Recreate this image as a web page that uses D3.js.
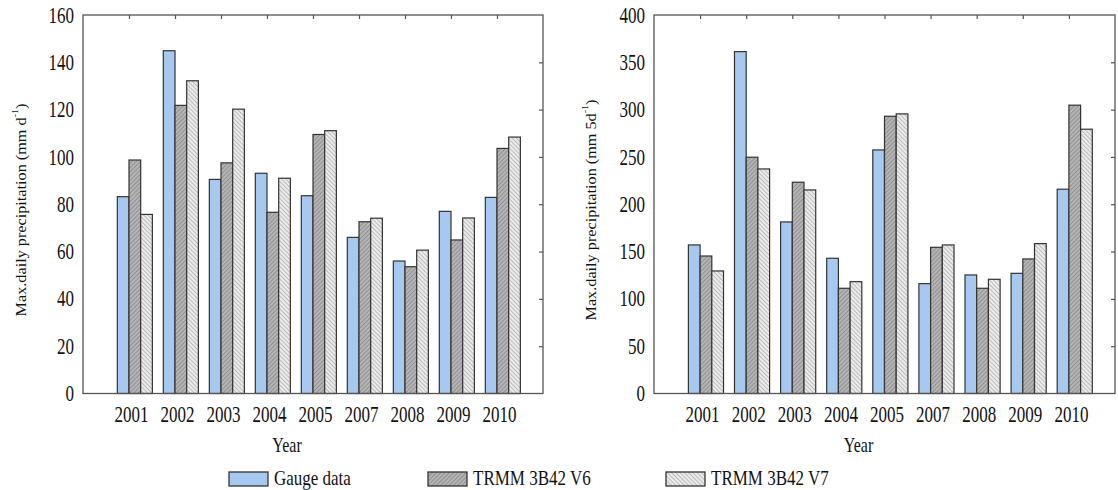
<!DOCTYPE html>
<html>
<head>
<meta charset="utf-8">
<script src="https://cdn.jsdelivr.net/npm/d3@7"></script>
<style>
  html, body { margin: 0; padding: 0; background: #fff; }
  svg { display: block; font-family: "Liberation Serif", "Times New Roman", serif; }
</style>
</head>
<body>
<svg id="chart" width="1118" height="490"></svg>
<script>
// data
const years = ['2001', '2002', '2003', '2004', '2005', '2007', '2008', '2009', '2010'];
const seriesNames = ['Gauge data', 'TRMM 3B42 V6', 'TRMM 3B42 V7'];

// max 1-day precipitation (mm d-1)
const gaugeDaily = [83.2, 144.9, 90.5, 93.1, 83.6, 66.0, 56.0, 77.0, 82.9];
const v6Daily    = [98.7, 121.8, 97.5, 76.6, 109.5, 72.6, 53.6, 64.9, 103.6];
const v7Daily    = [75.7, 132.2, 120.2, 91.0, 111.1, 74.1, 60.6, 74.2, 108.4];

// max 5-day precipitation (mm 5d-1)
const gauge5d = [157.0, 361.3, 181.3, 142.9, 257.4, 116.1, 125.3, 127.0, 215.9];
const v6_5d   = [145.3, 249.7, 223.3, 111.2, 293.0, 154.5, 111.2, 142.2, 304.7];
const v7_5d   = [129.5, 237.3, 215.1, 118.2, 295.5, 157.0, 120.7, 158.4, 279.3];

const ticksDaily = [0, 20, 40, 60, 80, 100, 120, 140, 160];
const ticks5d = [0, 50, 100, 150, 200, 250, 300, 350, 400];

const svg = d3.select('#chart');
const STRETCH = 1.3;   // the source figure's text is drawn tall and narrow

// hatch patterns
const defs = svg.append('defs');
function hatch(id, bg, line, angle) {
  const p = defs.append('pattern').attr('id', id)
    .attr('patternUnits', 'userSpaceOnUse').attr('width', 3).attr('height', 3)
    .attr('patternTransform', `rotate(${angle})`);
  p.append('rect').attr('width', 3).attr('height', 3).attr('fill', bg);
  p.append('line').attr('x1', 0).attr('y1', 0).attr('x2', 0).attr('y2', 3)
    .attr('stroke', line).attr('stroke-width', 1.2);
}
hatch('hV6', '#b5b5b5', '#777', 45);
hatch('hV7', '#ececec', '#9a9a9a', -45);

const fills = ['#a7c8ef', 'url(#hV6)', 'url(#hV7)'];

const plotTop = 15, plotBottom = 393.5;

function panel(x0, x1, seriesArr, yMax, yTicks, unitLabel, titleX) {
  const x = d3.scaleLinear().domain([0, 10]).range([x0, x1]);
  const y = d3.scaleLinear().domain([0, yMax]).range([plotBottom, plotTop]);
  const sub = d3.scaleBand().domain(d3.range(seriesArr.length)).range([-0.254, 0.508]);
  const bw = x(sub.bandwidth()) - x(0);

  const g = svg.append('g');

  // bars
  seriesArr.forEach((vals, j) => {
    g.append('g').selectAll('rect').data(vals).join('rect')
      .attr('x', (d, i) => x(i + 1 + sub(j)))
      .attr('y', d => y(d))
      .attr('width', bw)
      .attr('height', d => y(0) - y(d))
      .attr('fill', fills[j])
      .attr('stroke', '#333').attr('stroke-width', 1.2);
  });

  // frame
  g.append('rect').attr('x', x0).attr('y', plotTop)
    .attr('width', x1 - x0).attr('height', plotBottom - plotTop)
    .attr('fill', 'none').attr('stroke', '#555').attr('stroke-width', 1.3);

  // left axis labels
  const ax = g.append('g').attr('transform', `translate(${x0},0)`)
    .call(d3.axisLeft(y).tickValues(yTicks).tickSize(0).tickPadding(9));
  ax.select('.domain').remove();
  ax.selectAll('text').attr('font-size', 17).attr('fill', '#111')
    .attr('font-family', '"Liberation Serif", serif')
    .attr('transform', `scale(1,${STRETCH})`);

  // right inward ticks
  const ar = g.append('g').attr('transform', `translate(${x1},0)`)
    .call(d3.axisLeft(y).tickValues(yTicks.slice(1, -1)).tickSize(4).tickFormat(''));
  ar.select('.domain').remove();
  ar.selectAll('line').attr('stroke', '#555').attr('stroke-width', 1.2);

  // top inward ticks
  const at = g.append('g').attr('transform', `translate(0,${plotTop})`)
    .call(d3.axisBottom(x).tickValues(d3.range(1, 10)).tickSize(4).tickFormat(''));
  at.select('.domain').remove();
  at.selectAll('line').attr('stroke', '#555').attr('stroke-width', 1.2);

  // category labels
  const ab = g.append('g').attr('transform', `translate(2,${plotBottom})`)
    .call(d3.axisBottom(x).tickValues(d3.range(1, 10)).tickSize(0).tickPadding(0)
      .tickFormat(k => years[k - 1]));
  ab.select('.domain').remove();
  ab.selectAll('text').attr('y', 0).attr('dy', 0)
    .attr('font-size', 17).attr('fill', '#111')
    .attr('font-family', '"Liberation Serif", serif')
    .attr('transform', `translate(0,22) scale(1,${STRETCH}) translate(0,${6 / STRETCH})`);

  // x title
  g.append('text')
    .attr('transform', `translate(${(x0 + x1) / 2 - 26},${452}) scale(1,${STRETCH})`)
    .attr('text-anchor', 'middle').attr('font-size', 16).attr('fill', '#111')
    .text('Year');

  // y title
  const t = g.append('text')
    .attr('transform', `translate(${titleX},${210}) scale(1,1.12) rotate(-90)`)
    .attr('text-anchor', 'middle').attr('font-size', 14.5).attr('fill', '#111')
    .attr('dy', '0.35em');
  t.append('tspan').text(`Max.daily precipitation (mm ${unitLabel}`);
  t.append('tspan').attr('font-size', 9).attr('dy', '-0.9em').text('-1');
  t.append('tspan').attr('dy', '0.55em').text(')');
}

panel(83, 543, [gaugeDaily, v6Daily, v7Daily], 160, ticksDaily, 'd', 21);
panel(654, 1115, [gauge5d, v6_5d, v7_5d], 400, ticks5d, '5d', 591);

// legend
const legendX = [229, 428, 666];
const lg = svg.append('g').selectAll('g').data(seriesNames).join('g')
  .attr('transform', (d, i) => `translate(${legendX[i]},472)`);
lg.append('rect').attr('width', 39).attr('height', 14)
  .attr('fill', (d, i) => fills[i]).attr('stroke', '#333').attr('stroke-width', 1.3);
lg.append('text')
  .attr('transform', `translate(45,6) scale(1,1.2)`)
  .attr('dy', '0.35em').attr('font-size', 17).attr('fill', '#111')
  .text(d => d);
</script>
</body>
</html>
